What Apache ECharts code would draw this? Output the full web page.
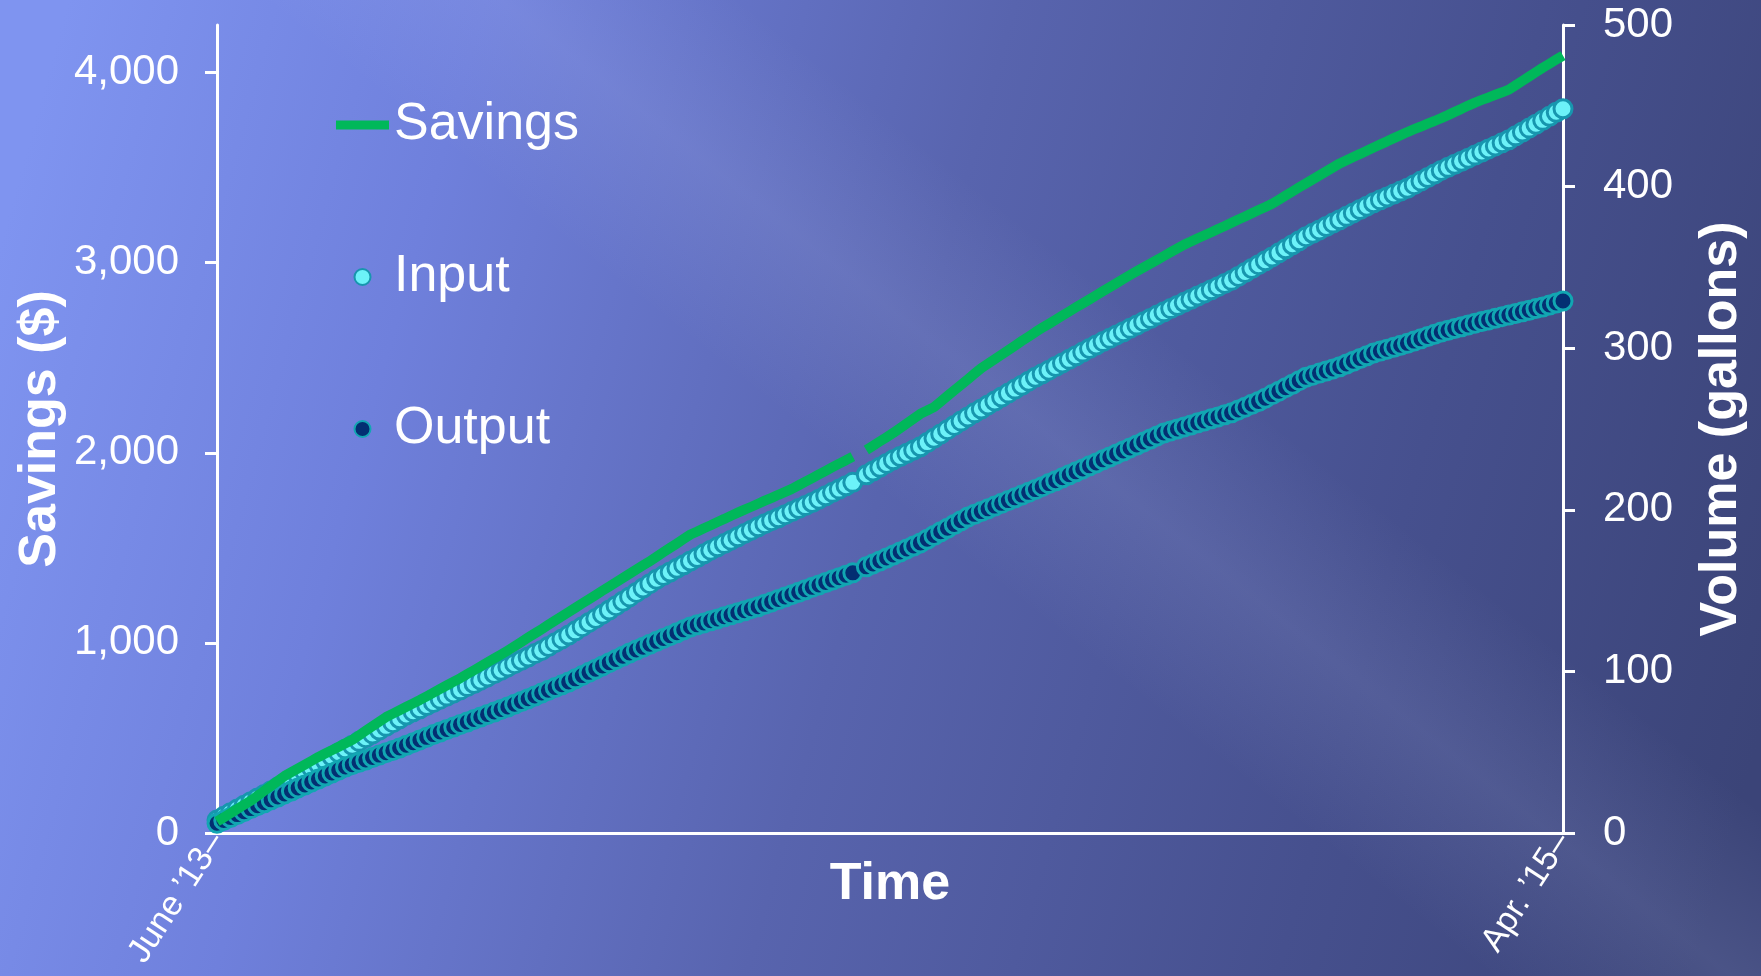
<!DOCTYPE html>
<html><head><meta charset="utf-8">
<script src="https://cdn.jsdelivr.net/npm/echarts@6/dist/echarts.min.js"></script>
<style>html,body{margin:0;padding:0;background:#5a66b0;overflow:hidden}#c{width:1761px;height:976px}</style>
</head><body><div id="c"></div>
<script>
const xTickLabels = ["June \u201913", "Apr. \u201915"];
const leftTicks = [0, 1000, 2000, 3000, 4000];
const seriesNames = ["Savings", "Input", "Output"];

const savings = [60,82,104,126,148,170,196,222,248,274,300,320,340,360,380,400,418,436,454,472,490,514,538,562,586,610,628,646,664,682,700,719,738,758,777,796,815,836,856,877,898,918,939,960,982,1005,1028,1050,1072,1095,1118,1140,1162,1185,1208,1230,1252,1275,1297,1319,1341,1364,1386,1408,1430,1453,1477,1500,1523,1547,1570,1586,1603,1619,1636,1652,1669,1685,1701,1716,1732,1748,1763,1779,1794,1810,1829,1848,1867,1886,1905,1924,1943,1961,1980,null,2015,2037,2060,2082,2105,2130,2155,2180,2205,2222,2240,2269,2299,2328,2357,2386,2416,2445,2469,2493,2516,2540,2564,2588,2611,2635,2657,2678,2700,2722,2743,2765,2786,2807,2829,2850,2871,2892,2914,2935,2955,2975,2995,3015,3035,3055,3075,3095,3111,3128,3144,3160,3177,3193,3210,3227,3243,3260,3277,3293,3310,3331,3353,3374,3396,3417,3438,3459,3480,3501,3522,3539,3556,3572,3589,3606,3622,3638,3655,3671,3687,3702,3716,3731,3745,3760,3776,3793,3809,3826,3842,3856,3869,3883,3896,3910,3933,3956,3979,4002,4025,4046,4068,4089];

const input = [8,10.3,12.6,14.8,17.1,19.4,21.7,23.9,26.2,28.5,
30.9,33.2,35.6,37.9,40.3,42.6,45,47.3,49.7,52,
54.3,56.7,59,61.3,63.7,66,68.3,70.7,73,
75,76.9,78.9,80.8,82.8,84.7,86.7,88.6,90.6,92.5,
94.6,96.6,98.7,100.7,102.8,104.8,106.9,108.9,111,113,
115.4,117.8,120.1,122.5,
125.1,127.7,130.3,132.8,135.4,138,
140.7,143.4,146.1,148.9,151.6,154.3,157,
159.3,161.5,163.8,166,168.3,170.5,172.8,175,
177.1,179.1,181.2,183.3,185.4,187.4,189.5,
191.4,193.3,195.1,197,198.9,200.8,202.6,204.5,
206.6,208.7,210.8,212.8,214.9,217,
null,
221.7,224,226.3,228.7,231,
233,235,237,239,
241.6,244.3,246.9,249.6,252.2,254.9,257.5,
260,262.4,264.9,267.3,269.8,272.2,274.7,277.1,279.6,282,
284.2,286.4,288.7,290.9,293.1,295.3,297.6,299.8,302,
304.1,306.1,308.2,310.2,312.3,314.3,316.4,318.4,320.5,322.5,
324.5,326.4,328.4,330.3,332.3,334.2,336.2,338.1,340.1,342,
344.4,346.8,349.3,351.7,354.1,356.5,
359,361.5,364,366.5,369,
371.1,373.2,375.3,377.4,379.5,
381.6,383.7,385.8,387.9,390,
391.8,393.6,395.4,397.2,399,
401.2,403.4,405.6,407.8,410,
411.9,413.8,415.7,417.6,419.5,
421.4,423.3,425.2,427.1,429,
431.4,433.8,436.2,438.6,441,
443.5,446,448.2];

const output = [6,7.8,9.6,11.4,13.2,15.1,16.9,18.7,20.5,22.3,
24.2,26,27.9,29.7,31.6,33.4,35.3,37.1,39,40.8,
42.3,43.8,45.2,46.7,48.2,49.7,51.1,52.6,
54.3,55.9,57.6,59.2,60.9,62.5,
64.1,65.6,67.2,68.7,70.3,71.8,73.4,74.9,76.5,78,
79.7,81.4,83.1,84.8,86.6,88.3,90,91.7,93.4,
95.4,97.4,99.4,101.4,103.4,105.4,107.4,109.4,111.4,
113.2,115,116.8,118.6,120.4,122.1,123.9,125.7,127.5,
128.8,130,131.3,132.5,133.8,135,136.3,137.5,138.8,140,
141.5,143,144.5,146,147.5,149,150.5,152,
153.5,155,156.5,158,159.5,161,
null,
164.7,166.5,168.3,170.2,172,
173.9,175.8,177.6,179.5,
181.8,184.1,186.4,188.6,190.9,193.2,195.5,
197.2,198.9,200.6,202.3,204,205.7,207.4,209.1,210.8,212.5,
214.3,216.2,218,219.8,221.7,223.5,225.3,227.2,229,
230.9,232.7,234.6,236.4,238.3,240.1,242,243.8,245.7,247.5,
248.8,250,251.3,252.5,253.8,255,256.3,257.5,258.8,260,
261.8,263.5,265.3,267,
269.1,271.3,273.4,275.6,277.7,279.9,282,
283.3,284.6,285.9,287.2,288.5,
290.2,291.9,293.6,295.3,297,
298.2,299.4,300.6,301.8,303,
304.4,305.8,307.2,308.6,310,
311.1,312.2,313.3,314.4,315.5,
316.5,317.5,318.5,319.5,320.5,
321.5,322.5,323.5,324.5,325.5,
326.7,328,329.2];

const FF = '"Liberation Sans", Arial, Helvetica, sans-serif';
const N = savings.length;
const toPairs = arr => arr.map((v, i) => [i, v == null ? '-' : v]);
const chart = echarts.init(document.getElementById('c'), null, {renderer: 'canvas', width: 1761, height: 976});

const option = {
  animation: false,
  backgroundColor: {
    type: 'linear', x: 0, y: 0.25, x2: 1, y2: 0.75,
    colorStops: [
      {offset: 0, color: '#7F94F0'},
      {offset: 0.22, color: '#6F80DC'},
      {offset: 0.5, color: '#5864AE'},
      {offset: 0.78, color: '#46508E'},
      {offset: 1, color: '#3B4478'}
    ]
  },
  graphic: [{
    type: 'rect', silent: true, z: -10,
    shape: {x: 0, y: 0, width: 1761, height: 976},
    style: {fill: {type: 'linear', x: 0.3, y: 1, x2: 0.74, y2: 0, colorStops: [
      {offset: 0, color: 'rgba(200,210,255,0)'},
      {offset: 0.48, color: 'rgba(200,210,255,0)'},
      {offset: 0.6, color: 'rgba(200,210,255,0.11)'},
      {offset: 0.72, color: 'rgba(200,210,255,0)'},
      {offset: 1, color: 'rgba(200,210,255,0)'}
    ]}}
  }],
  grid: {left: 217, right: 198, top: 25, bottom: 143, containLabel: false, outerBoundsMode: 'none'},
  legend: {
    orient: 'vertical', left: 331, top: 90, itemWidth: 53, itemHeight: 16, itemGap: 92,
    selectedMode: false,
    textStyle: {color: '#fff', fontSize: 52, fontFamily: FF, lineHeight: 60},
    data: [
      {name: seriesNames[0], icon: 'path://M0 0H53V9H0Z'},
      {name: seriesNames[1], icon: 'circle'},
      {name: seriesNames[2], icon: 'circle'}
    ]
  },
  xAxis: {
    type: 'value', min: 0, max: N - 1,
    axisLine: {show: true, lineStyle: {color: '#fff', width: 3}},
    axisTick: {show: false},
    splitLine: {show: false},
    axisLabel: {
      customValues: [0, N - 1],
      formatter: v => (v === 0 ? xTickLabels[0] : xTickLabels[1]) + '\u2013',
      rotate: 57, margin: 3, color: '#fff', fontSize: 34, fontFamily: FF
    },
    name: 'Time', nameLocation: 'middle', nameGap: 26, nameMoveOverlap: false,
    nameTextStyle: {color: '#fff', fontSize: 52, fontWeight: 'bold', fontFamily: FF}
  },
  yAxis: [{
    type: 'value', min: 0, max: 4250, position: 'left',
    axisLine: {show: true, lineStyle: {color: '#fff', width: 3}},
    axisTick: {show: true, length: 12, customValues: leftTicks, lineStyle: {color: '#fff', width: 3}},
    axisLabel: {customValues: leftTicks, formatter: v => v.toLocaleString('en-US'), margin: 38, color: '#fff', fontSize: 42, fontFamily: FF},
    splitLine: {show: false},
    name: 'Savings ($)', nameLocation: 'middle', nameGap: 150, nameMoveOverlap: false,
    nameTextStyle: {color: '#fff', fontSize: 52, fontWeight: 'bold', fontFamily: FF}
  }, {
    type: 'value', min: 0, max: 500, interval: 100, position: 'right',
    axisLine: {show: true, lineStyle: {color: '#fff', width: 3}},
    axisTick: {show: true, length: 12, lineStyle: {color: '#fff', width: 3}},
    axisLabel: {margin: 40, color: '#fff', fontSize: 42, fontFamily: FF},
    splitLine: {show: false},
    name: 'Volume (gallons)', nameLocation: 'middle', nameGap: 133, nameMoveOverlap: false,
    nameTextStyle: {color: '#fff', fontSize: 52, fontWeight: 'bold', fontFamily: FF}
  }],
  series: [{
    name: seriesNames[0], type: 'line', yAxisIndex: 0, data: toPairs(savings),
    showSymbol: false, symbol: 'none', clip: false, connectNulls: false,
    lineStyle: {color: '#00B85A', width: 10, join: 'round'},
    itemStyle: {color: '#00B85A'}
  }, {
    name: seriesNames[1], type: 'scatter', yAxisIndex: 1, data: toPairs(input),
    symbol: 'circle', symbolSize: 18, clip: false,
    itemStyle: {color: '#6CF2F8', borderColor: '#1796AE', borderWidth: 3, opacity: 1}
  }, {
    name: seriesNames[2], type: 'scatter', yAxisIndex: 1, data: toPairs(output),
    symbol: 'circle', symbolSize: 18, clip: false,
    itemStyle: {color: '#032F72', borderColor: '#12A6B2', borderWidth: 3, opacity: 1}
  }]
};
chart.setOption(option);
</script>
</body></html>
